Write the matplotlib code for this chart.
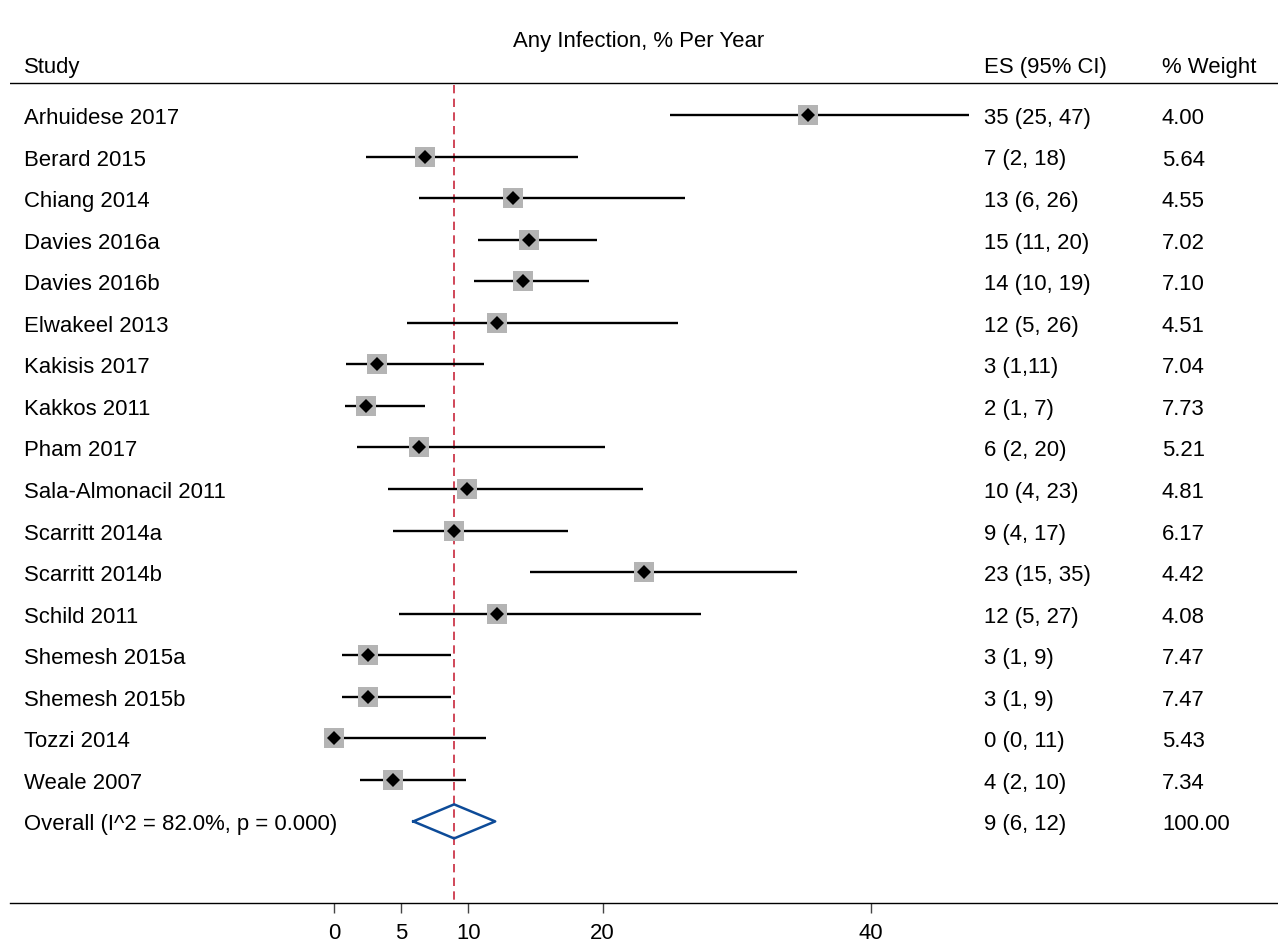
import numpy as np
import matplotlib
matplotlib.use("Agg")
import matplotlib.pyplot as plt
import matplotlib.transforms as mtransforms

plt.rcParams['font.family'] = ['Liberation Sans', 'DejaVu Sans']

# ---------------------------
# DATA
# ---------------------------

studies = [
    'Arhuidese 2017', 'Berard 2015', 'Chiang 2014', 'Davies 2016a',
    'Davies 2016b', 'Elwakeel 2013', 'Kakisis 2017', 'Kakkos 2011',
    'Pham 2017', 'Sala-Almonacil 2011', 'Scarritt 2014a', 'Scarritt 2014b',
    'Schild 2011', 'Shemesh 2015a', 'Shemesh 2015b', 'Tozzi 2014', 'Weale 2007',
]
es = [35.3, 6.8, 13.3, 14.5, 14.1, 12.1, 3.2, 2.4, 6.3, 9.9, 8.9, 23.1,
      12.1, 2.5, 2.5, 0.0, 4.4]
ci_lo = [25.0, 2.4, 6.3, 10.7, 10.4, 5.4, 0.9, 0.8, 1.7, 4.0, 4.4, 14.6,
         4.8, 0.6, 0.6, 0.0, 1.9]
ci_hi = [47.3, 18.2, 26.1, 19.6, 19.0, 25.6, 11.2, 6.8, 20.2, 23.0, 17.4, 34.5,
         27.3, 8.7, 8.7, 11.3, 9.8]
es_text = ['35 (25, 47)', '7 (2, 18)', '13 (6, 26)', '15 (11, 20)', '14 (10, 19)',
           '12 (5, 26)', '3 (1,11)', '2 (1, 7)', '6 (2, 20)', '10 (4, 23)',
           '9 (4, 17)', '23 (15, 35)', '12 (5, 27)', '3 (1, 9)', '3 (1, 9)',
           '0 (0, 11)', '4 (2, 10)']
weights = ['4.00', '5.64', '4.55', '7.02', '7.10', '4.51', '7.04', '7.73', '5.21',
           '4.81', '6.17', '4.42', '4.08', '7.47', '7.47', '5.43', '7.34']

overall_label = 'Overall (I^2 = 82.0%, p = 0.000)'
overall_es = 8.94
overall_lo = 5.9
overall_hi = 12.0
overall_text = '9 (6, 12)'
overall_weight = '100.00'

xticks = [0, 5, 10, 20, 40]
title = 'Any Infection, % Per Year'

# ---------------------------
# LAYOUT
# ---------------------------

W, H = 1278, 945
fig = plt.figure(figsize=(W / 100, H / 100), dpi=100)

ax_left = 10 / W
ax = fig.add_axes([ax_left, 0, 1 - ax_left, 1])
ax.set_xlim(-24.13, 70.29)
ax.set_ylim(19.95, -2.79)
for s in ['top', 'left', 'right']:
    ax.spines[s].set_visible(False)

n = len(studies)
rows = np.arange(n)
overall_row = n
axis_row = 18.96
fs = 15.9

# bottom axis
ax.spines['bottom'].set_position(('data', axis_row))
ax.spines['bottom'].set_linewidth(1.0)
ax.set_xticks(xticks)
ax.set_xticklabels([str(t) for t in xticks], fontsize=fs)
ax.tick_params(axis='x', direction='out', length=7.5, width=1.0, pad=6,
               color='#444444')
ax.set_yticks([])

# header line
ax.axhline(-0.77, color='black', lw=1.0)

# reference line at overall estimate
ax.plot([overall_es, overall_es], [-0.72, axis_row], color='#c8283c', lw=1.2,
        linestyle=(0, (5, 3.2)), zorder=1)

# CI lines and boxes
for i in range(n):
    ax.plot([ci_lo[i], ci_hi[i]], [rows[i], rows[i]], color='black', lw=1.7,
            solid_capstyle='butt', zorder=2)
ax.plot(es, rows, 's', color='#b4b4b4', markersize=13.7, zorder=3, markeredgewidth=0)
ax.plot(es, rows, 'D', color='black', markersize=7.2, zorder=4, markeredgewidth=0)

# overall diamond
dh = 0.41
ax.plot([overall_lo, overall_es, overall_hi, overall_es, overall_lo],
        [overall_row, overall_row - dh, overall_row, overall_row + dh, overall_row],
        color='#0d4b98', lw=1.8, zorder=4)

# text columns
tr = mtransforms.blended_transform_factory(fig.transFigure, ax.transData)
x_study = 24 / W
x_es = 984 / W
x_wt = 1162 / W
y_head = -1.22
va = 'center_baseline'

fig.text(0.5, 1 - 39 / H, title, ha='center', va=va, fontsize=fs)
ax.text(x_study, y_head, 'Study', transform=tr, ha='left', va=va, fontsize=fs)
ax.text(x_es, y_head, 'ES (95% CI)', transform=tr, ha='left', va=va, fontsize=fs)
ax.text(x_wt, y_head, '% Weight', transform=tr, ha='left', va=va, fontsize=fs)

for i in range(n):
    ax.text(x_study, rows[i], studies[i], transform=tr, ha='left', va=va, fontsize=fs)
    ax.text(x_es, rows[i], es_text[i], transform=tr, ha='left', va=va, fontsize=fs)
    ax.text(x_wt, rows[i], weights[i], transform=tr, ha='left', va=va, fontsize=fs)

ax.text(x_study, overall_row, overall_label, transform=tr, ha='left', va=va, fontsize=fs)
ax.text(x_es, overall_row, overall_text, transform=tr, ha='left', va=va, fontsize=fs)
ax.text(x_wt, overall_row, overall_weight, transform=tr, ha='left', va=va, fontsize=fs)

fig.savefig('out.png', dpi=100, facecolor='white')
